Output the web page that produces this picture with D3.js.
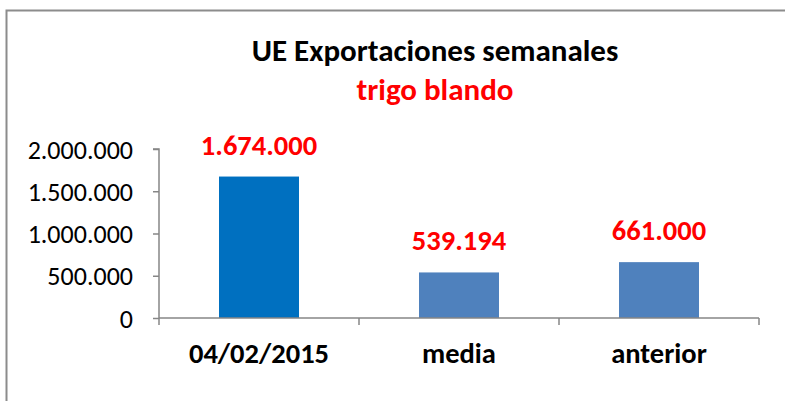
<html>
<head>
	<style type="text/css">
		body{ margin: 0; background-color: #fff; }
		svg{ display: block; }
		.axis line, .axis path{ stroke: #868686; stroke-width: 1.5px; }
		.yAxis text{ fill: #000; font-size: 26px; }
		.xAxis text{ fill: #000; font-size: 28.5px; font-weight: bold; }
		.label{ fill: #ff0000; font-size: 28.5px; font-weight: bold; }
		text{ font-family: Carlito, Calibri, 'Open Sans', sans-serif; }
	</style>
	<script type="text/javascript" src="https://d3js.org/d3.v7.min.js"></script>
</head>
<body>
<div id="chart"></div>
<script type="text/javascript">
	var categories = ['04/02/2015', 'media', 'anterior'];
	var values = [1674000, 539194, 661000];
	var barColors = ['#0070C0', '#4F81BD', '#4F81BD'];
	var yTicks = [0, 500000, 1000000, 1500000, 2000000];
	var title = 'UE Exportaciones semanales';
	var subtitle = 'trigo blando';

	var width = 785, height = 401;
	var plotLeft = 159, plotRight = 759, plotTop = 149, plotBottom = 318;

	var fmt = d3.formatLocale({decimal: ',', thousands: '.', grouping: [3], currency: ['', '€']}).format(',d');

	var svg = d3.select('#chart')
		.append('svg')
		.attr('width', width)
		.attr('height', height);

	// chart frame
	svg.append('rect')
		.attr('x', 6.5).attr('y', 10.5)
		.attr('width', 800).attr('height', 420)
		.attr('fill', 'none')
		.attr('stroke', '#8c8c8c')
		.attr('stroke-width', 2);

	var xScale = d3.scaleBand()
		.domain(categories)
		.range([plotLeft, plotRight])
		.paddingInner(0.6)
		.paddingOuter(0.3);

	var yScale = d3.scaleLinear()
		.domain([0, 2000000])
		.range([plotBottom, plotTop]);

	svg.append('text')
		.attr('x', 435).attr('y', 61)
		.attr('text-anchor', 'middle')
		.style('font-size', '31px').style('font-weight', 'bold')
		.text(title);

	svg.append('text')
		.attr('x', 435).attr('y', 100)
		.attr('text-anchor', 'middle')
		.style('font-size', '31px').style('font-weight', 'bold')
		.attr('fill', '#ff0000')
		.text(subtitle);

	svg.selectAll('.bar')
		.data(values)
		.enter()
		.append('rect')
		.attr('class', 'bar')
		.attr('x', function(d, i){ return xScale(categories[i]); })
		.attr('y', function(d){ return yScale(d); })
		.attr('width', xScale.bandwidth())
		.attr('height', function(d){ return plotBottom - yScale(d); })
		.attr('fill', function(d, i){ return barColors[i]; });

	svg.selectAll('.label')
		.data(values)
		.enter()
		.append('text')
		.attr('class', 'label')
		.attr('x', function(d, i){ return xScale(categories[i]) + xScale.bandwidth() / 2; })
		.attr('y', function(d){ return yScale(d) - 22; })
		.attr('text-anchor', 'middle')
		.text(function(d){ return fmt(d); });

	var yAxis = d3.axisLeft(yScale).tickValues(yTicks).tickSize(6).tickPadding(20)
		.tickFormat(function(d){ return fmt(d); });
	svg.append('g')
		.attr('class', 'axis yAxis')
		.attr('transform', 'translate(' + plotLeft + ',0)')
		.call(yAxis)
		.call(function(g){ g.select('.domain').attr('d', 'M-6,' + plotTop + 'H0V' + plotBottom); })
		.selectAll('text').attr('dy', '0.35em');

	// x axis with ticks at category boundaries
	var xAxisG = svg.append('g')
		.attr('class', 'axis xAxis')
		.attr('transform', 'translate(0,' + plotBottom + ')');
	xAxisG.append('path')
		.attr('d', 'M' + plotLeft + ',0H' + plotRight)
		.attr('fill', 'none');
	xAxisG.selectAll('.bound')
		.data(d3.range(categories.length + 1))
		.enter()
		.append('line')
		.attr('x1', function(i){ return plotLeft + i * (plotRight - plotLeft) / categories.length; })
		.attr('x2', function(i){ return plotLeft + i * (plotRight - plotLeft) / categories.length; })
		.attr('y1', 0).attr('y2', 7);
	xAxisG.selectAll('.cat')
		.data(categories)
		.enter()
		.append('text')
		.attr('x', function(d){ return xScale(d) + xScale.bandwidth() / 2; })
		.attr('y', 45)
		.attr('text-anchor', 'middle')
		.text(function(d){ return d; });
</script>
</body>
</html>
